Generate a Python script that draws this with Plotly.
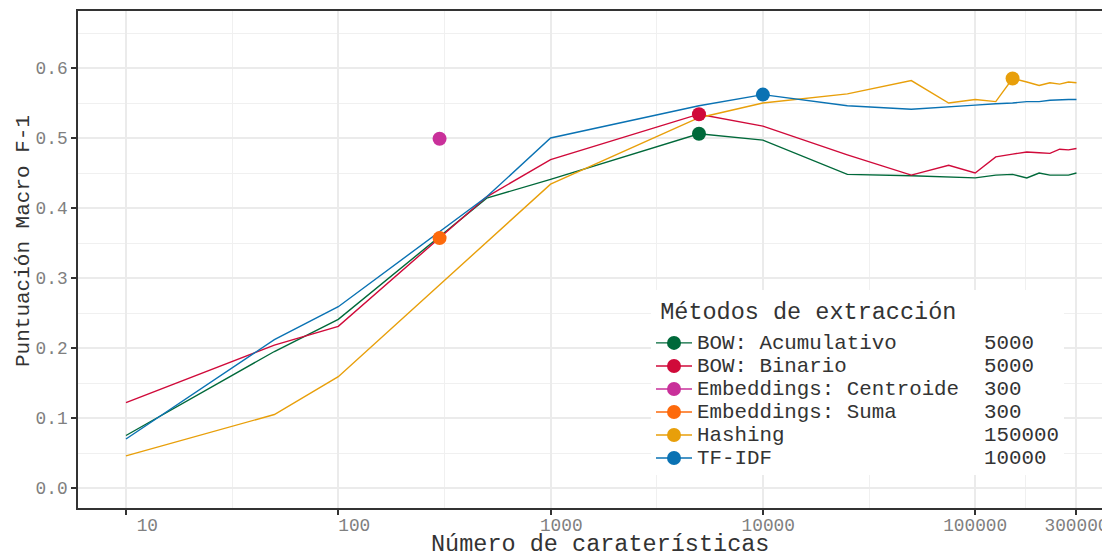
import plotly.graph_objects as go

# ---------------- data ----------------
features = [10, 50, 100, 500, 1000, 5000, 10000, 25000, 50000, 75000, 100000,
            125000, 150000, 175000, 200000, 225000, 250000, 275000, 300000]

bow_acumulativo = [0.075, 0.195, 0.241, 0.414, 0.441, 0.506, 0.497, 0.448, 0.446, 0.444,
                   0.443, 0.447, 0.448, 0.443, 0.450, 0.447, 0.447, 0.447, 0.450]
bow_binario = [0.122, 0.204, 0.231, 0.416, 0.469, 0.534, 0.517, 0.476, 0.447, 0.461,
               0.450, 0.473, 0.477, 0.480, 0.479, 0.478, 0.484, 0.483, 0.485]
hashing = [0.046, 0.105, 0.159, 0.352, 0.434, 0.529, 0.550, 0.563, 0.582, 0.550,
           0.555, 0.552, 0.585, 0.580, 0.575, 0.579, 0.577, 0.580, 0.579]
tfidf = [0.070, 0.212, 0.259, 0.416, 0.500, 0.546, 0.562, 0.546, 0.541, 0.544,
         0.547, 0.549, 0.550, 0.552, 0.552, 0.554, 0.555, 0.555, 0.555]

emb_x = [300]
emb_centroide = [0.499]
emb_suma = [0.357]

methods = ["BOW: Acumulativo", "BOW: Binario", "Embeddings: Centroide",
           "Embeddings: Suma", "Hashing", "TF-IDF"]
best_x = [5000, 5000, 300, 300, 150000, 10000]
best_y = [0.506, 0.534, 0.499, 0.357, 0.585, 0.562]
colors = ["#00693a", "#d00a3a", "#c9309a", "#fd6a0c", "#e89f0a", "#0a72b3"]

x_tickvals = [10, 100, 1000, 10000, 100000, 300000]
x_ticktext = ["10", "100", "1000", "10000", "100000", "300000"]
x_minor = [31.6228, 316.228, 3162.28, 31622.8, 173205]

legend_title = "Métodos de extracción"

# ---------------- figure ----------------
MONO = "Liberation Mono, Courier New, monospace"
NB = "\u00a0"

fig = go.Figure()

line_series = {
    "BOW: Acumulativo": bow_acumulativo,
    "BOW: Binario": bow_binario,
    "Hashing": hashing,
    "TF-IDF": tfidf,
}
for name, vals in line_series.items():
    c = colors[methods.index(name)]
    fig.add_trace(go.Scatter(x=features, y=vals, mode="lines",
                             line=dict(color=c, width=1.4),
                             showlegend=False, legendgroup=name, hoverinfo="skip"))

for name, bx, by, c in zip(methods, best_x, best_y, colors):
    if name == "Embeddings: Centroide":
        px, py = emb_x, emb_centroide
    elif name == "Embeddings: Suma":
        px, py = emb_x, emb_suma
    else:
        px, py = [bx], [by]
    label = (name.ljust(23) + str(bx)).replace(" ", NB)
    fig.add_trace(go.Scatter(
        x=px, y=py, mode="lines+markers",
        line=dict(color=c, width=1.4),
        marker=dict(color=c, size=14),
        name="<span style='font-size:20.8px'>" + label + "</span>",
        legendgroup=name))

# page body has an 8px margin: the figure occupies page pixels 8..1110, 8..556
OFF = 8
width_px = 1110 - OFF
height_px = 556 - OFF
ml, mr, mt = 78 - OFF, 0, 11 - OFF
mb = height_px - (508 - OFF)
pw = width_px - ml - mr
ph = height_px - mt - mb


def px_x(page_x):
    return (page_x - 78) / pw


def px_y(page_y):
    return (508 - page_y) / ph


# legend title: small base font with spacer lines to leave a gap before items
title_text = "<br>".join([NB, NB, NB,
                          "<span style='font-size:23.5px'><span style='font-size:12px'>" + NB
                          + "</span>" + legend_title + "</span>",
                          NB])

fig.update_layout(
    width=width_px, height=height_px,
    margin=dict(l=ml, r=mr, t=mt, b=mb, pad=0),
    paper_bgcolor="white", plot_bgcolor="white",
    font=dict(family=MONO, color="#333333"),
    xaxis=dict(
        type="log", range=[0.774, 5.635],
        tickvals=x_tickvals,
        ticktext=[t.rjust(6).replace(" ", NB) for t in x_ticktext],
        tickfont=dict(family=MONO, size=17.8, color="#808080"),
        ticks="outside", ticklen=5, tickwidth=1.5, tickcolor="#333333",
        ticklabelstandoff=-5,
        showgrid=True, gridcolor="#ebebeb", gridwidth=1.6,
        minor=dict(tickvals=x_minor, showgrid=True, gridcolor="#f0f0f0",
                   gridwidth=1, ticks=""),
        showline=True, linecolor="#333333", linewidth=1.6, mirror=True,
        zeroline=False,
    ),
    yaxis=dict(
        range=[-0.02857, 0.68143],
        tickvals=[0, 0.1, 0.2, 0.3, 0.4, 0.5, 0.6],
        ticktext=["0.0", "0.1", "0.2", "0.3", "0.4", "0.5", "0.6"],
        tickfont=dict(family=MONO, size=17.8, color="#808080"),
        ticks="outside", ticklen=5, tickwidth=1.5, tickcolor="#333333",
        showgrid=True, gridcolor="#ebebeb", gridwidth=1.6,
        minor=dict(dtick=0.05, tick0=0, showgrid=True, gridcolor="#f0f0f0",
                   gridwidth=1, ticks=""),
        showline=True, linecolor="#333333", linewidth=1.6, mirror=False,
        zeroline=False,
    ),
    legend=dict(
        x=px_x(651), y=px_y(290),
        xanchor="left", yanchor="top",
        bgcolor="white", borderwidth=0,
        font=dict(family=MONO, size=15.4, color="#333333"),
        title=dict(text=title_text,
                   font=dict(family=MONO, size=5.6, color="#333333")),
        traceorder="normal", tracegroupgap=0, itemsizing="trace",
        itemwidth=36,
    ),
    annotations=[
        dict(text="Número de caraterísticas", xref="paper", yref="paper",
             x=px_x(600), y=px_y(544),
             xanchor="center", yanchor="middle", showarrow=False,
             font=dict(family=MONO, size=23.5, color="#333333")),
        dict(text="Puntuación Macro F-1", xref="paper", yref="paper",
             x=px_x(23), y=px_y(241),
             xanchor="center", yanchor="middle", showarrow=False, textangle=-90,
             font=dict(family=MONO, size=21, color="#333333")),
    ],
)

fig.write_html("out.html")
